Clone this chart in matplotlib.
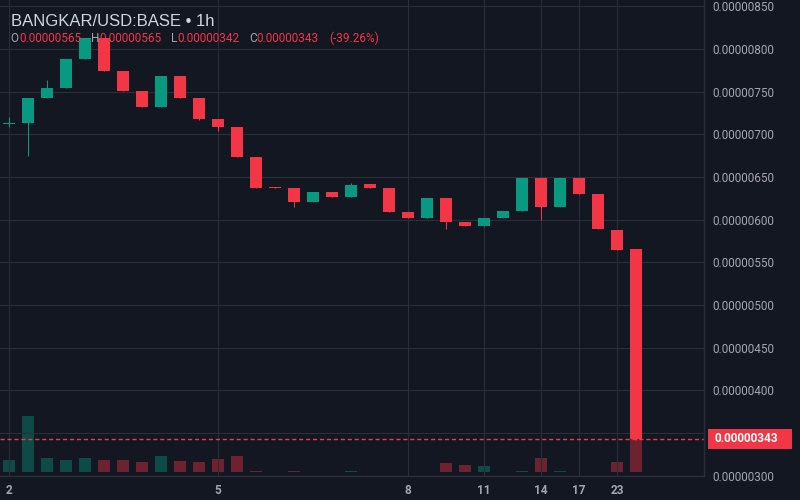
import matplotlib.pyplot as plt
from matplotlib.patches import Rectangle
from matplotlib.transforms import blended_transform_factory
import numpy as np

plt.rcParams['font.family'] = ['Roboto', 'DejaVu Sans']

# prices in units of 1e-6 USD, one hourly candle per entry
opens  = [7.12, 7.13, 7.43, 7.54, 7.88, 8.125, 7.74, 7.51, 7.32, 7.68, 7.43, 7.18,
          7.09, 6.73, 6.38, 6.375, 6.21, 6.32, 6.27, 6.415, 6.375, 6.085, 6.02, 6.25,
          5.97, 5.925, 6.015, 6.105, 6.49, 6.15, 6.49, 6.30, 5.88, 5.65]
highs  = [7.20, 7.43, 7.64, 7.88, 8.125, 8.125, 7.74, 7.51, 7.68, 7.68, 7.43, 7.18,
          7.09, 6.73, 6.38, 6.375, 6.32, 6.32, 6.425, 6.415, 6.375, 6.085, 6.25, 6.25,
          5.97, 6.015, 6.105, 6.49, 6.49, 6.49, 6.49, 6.30, 5.88, 5.65]
lows   = [7.09, 6.75, 7.43, 7.54, 7.88, 7.74, 7.51, 7.32, 7.32, 7.43, 7.165, 7.04,
          6.73, 6.375, 6.372, 6.15, 6.21, 6.27, 6.27, 6.375, 6.085, 6.02, 6.02, 5.885,
          5.925, 5.925, 6.015, 6.105, 5.995, 6.15, 6.30, 5.885, 5.645, 3.42]
closes = [7.12, 7.43, 7.54, 7.88, 8.125, 7.74, 7.51, 7.32, 7.68, 7.43, 7.18, 7.09,
          6.73, 6.375, 6.372, 6.21, 6.32, 6.27, 6.405, 6.375, 6.085, 6.02, 6.25, 5.97,
          5.925, 6.015, 6.105, 6.49, 6.15, 6.49, 6.30, 5.885, 5.645, 3.43]
volumes = [12, 56, 14.3, 12, 13.7, 12, 12, 9.7, 16.3, 11, 9.7, 13,
           15.7, 0.5, 0, 0.5, 0, 0, 1, 0, 0, 0, 0, 8.7,
           7, 6, 0, 0.7, 13.7, 0.5, 0, 0.3, 9.7, 58]

tick_idx = [0, 11, 21, 25, 28, 30, 32]
tick_labels = ['2', '5', '8', '11', '14', '17', '23']
price_ticks = [3.0, 3.5, 4.0, 4.5, 5.0, 5.5, 6.0, 6.5, 7.0, 7.5, 8.0, 8.5]

title = 'BANGKAR/USD:BASE • 1h'
last_open, last_high, last_low, last_close = '0.00000565', '0.00000565', '0.00000342', '0.00000343'
change = '(-39.26%)'

BG = '#131722'
GRID = '#2a2e39'
UP = '#089981'
DOWN = '#f23645'
TXT = '#a3a6af'

o = np.array(opens) * 1e-6
h = np.array(highs) * 1e-6
l = np.array(lows) * 1e-6
c = np.array(closes) * 1e-6
v = np.array(volumes)
x = np.arange(len(o))
up = c >= o
colors = np.where(up, UP, DOWN)

fig = plt.figure(figsize=(8, 5), dpi=100, facecolor=BG)
rect = [0, 24.4 / 500, 704 / 800, 475.6 / 500]

# volume pane behind the price pane
ax_vol = fig.add_axes(rect, facecolor=BG)
ax = fig.add_axes(rect, sharex=ax_vol)
ax.patch.set_visible(False)

ax_vol.bar(x, v, width=0.58, color=colors, alpha=0.4, linewidth=0)
ax_vol.set_ylim(-3.6, max(v) * 8.13)
ax_vol.axis('off')

# candles
body_lo = np.minimum(o, c)
body_h = np.maximum(np.abs(c - o), 0.012e-6)
ax.vlines(x, l, h, colors=colors, linewidth=0.75, zorder=3)
ax.bar(x, body_h, bottom=body_lo, width=0.58, color=colors, linewidth=0, zorder=4)

ax.set_xlim(-9 / 19, 695 / 19)
ax.set_ylim(3.0e-6, 8.574e-6)

ax.set_xticks(tick_idx)
ax.set_xticklabels(tick_labels, fontsize=8.5, fontweight='bold', color=TXT)
ax.yaxis.tick_right()
ax.set_yticks(np.array(price_ticks) * 1e-6)
ax.set_yticklabels(['{:.8f}'.format(p * 1e-6) for p in price_ticks], fontsize=8.5, color=TXT)
ax.tick_params(axis='both', length=0)
ax.tick_params(axis='x', pad=6)
ax.tick_params(axis='y', pad=6)
ax.grid(True, color=GRID, linewidth=0.8)
ax.set_axisbelow(True)

for side in ['top', 'left']:
    ax.spines[side].set_visible(False)
for side in ['bottom', 'right']:
    ax.spines[side].set_color(GRID)
    ax.spines[side].set_linewidth(1)

# last price line and label
ax.axhline(c[-1], color=DOWN, linestyle=(0, (3, 2)), linewidth=1, zorder=2)
tr = blended_transform_factory(fig.transFigure, ax.transData)
fig.patches.append(Rectangle((708.3 / 800, c[-1] - 0.113e-6), 83.4 / 800, 0.226e-6,
                             transform=tr, facecolor=DOWN, edgecolor='none', zorder=5))
fig.text(714.3 / 800, c[-1], last_close, transform=tr, ha='left', va='center',
         fontsize=8.5, fontweight='bold', color='white', zorder=6)

# legend header
fig.text(10.7 / 800, 1 - 26.5 / 500, title, fontsize=12, color='#d1d4dc', va='baseline',
         family=['Liberation Sans', 'DejaVu Sans'])
hy = 1 - 41.7 / 500
parts = [(10.7, 'O', TXT), (19, last_open, DOWN),
         (91.3, 'H', TXT), (99, last_high, DOWN),
         (171.3, 'L', TXT), (177.3, last_low, DOWN),
         (249.3, 'C', TXT), (256.7, last_close, DOWN),
         (329.3, change, DOWN)]
for px, s, col in parts:
    fig.text(px / 800, hy, s, fontsize=8.5, color=col, va='baseline')

plt.savefig('out.png', dpi=100, facecolor=BG)
